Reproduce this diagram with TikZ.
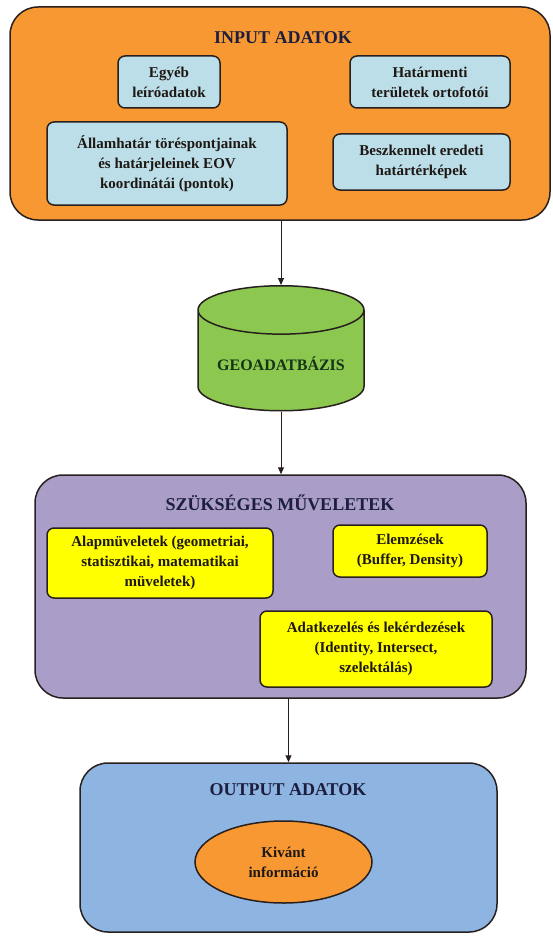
\documentclass[tikz,border=0pt]{standalone}
\usepackage{fontspec}
\setmainfont{Liberation Serif}
\usetikzlibrary{shapes.geometric,arrows.meta}
\definecolor{orangefill}{RGB}{248,152,50}
\definecolor{lightblue}{RGB}{188,222,232}
\definecolor{purplefill}{RGB}{170,158,200}
\definecolor{yellowfill}{RGB}{255,255,0}
\definecolor{bluefill}{RGB}{142,180,226}
\definecolor{greenfill}{RGB}{140,200,80}
\definecolor{linecol}{RGB}{40,32,30}
\definecolor{titlecol}{RGB}{28,30,62}
\definecolor{textcol}{RGB}{30,24,20}
\definecolor{geotext}{RGB}{22,52,22}
\begin{document}
\begin{tikzpicture}[x=1pt,y=-1pt,
    bigbox/.style={draw=linecol,line width=1.5pt,rounded corners=28pt},
    inbox/.style={draw=linecol,line width=1.5pt,rounded corners=7pt,align=center,
      inner sep=0pt,text=textcol,font=\fontsize{15}{20}\selectfont\bfseries},
    boxtitle/.style={text=titlecol,font=\fontsize{18}{22}\selectfont\bfseries},
    arr/.style={-{Triangle[length=7pt,width=6pt]},line width=1pt,draw=linecol}]
  \useasboundingbox (0,0) rectangle (553,936);
  % input adatok
  \node[bigbox,fill=orangefill,minimum width=540pt,minimum height=213pt] (input) at (280,113.5) {};
  \node[boxtitle] (inputtitle) at (283,38) {INPUT ADATOK};
  \node[inbox,fill=lightblue,minimum width=102pt,minimum height=52pt] (egyeb) at (169,82) {Egyéb\\leíróadatok};
  \node[inbox,fill=lightblue,minimum width=160pt,minimum height=52pt] (hatar) at (430,82) {Határmenti\\területek ortofotói};
  \node[inbox,fill=lightblue,minimum width=240pt,minimum height=83pt] (allam) at (167,163.5) {Államhatár töréspontjainak\\és határjeleinek EOV\\koordinátái (pontok)};
  \node[inbox,fill=lightblue,minimum width=177pt,minimum height=56pt] (beszk) at (421.5,162) {Beszkennelt eredeti\\határtérképek};
  % geoadatbazis
  \node[cylinder,shape border rotate=90,aspect=0.36,draw=linecol,line width=1.5pt,fill=greenfill,
    minimum width=166pt,minimum height=125pt,anchor=north,text=geotext,
    font=\fontsize{16}{20}\selectfont\bfseries] (geo) at (281,285) {GEOADATBÁZIS};
  % szukseges muveletek
  \node[bigbox,fill=purplefill,minimum width=491pt,minimum height=223pt] (ops) at (280.5,586.5) {};
  \node[boxtitle] (opstitle) at (280,503) {SZÜKSÉGES MŰVELETEK};
  \node[inbox,fill=yellowfill,minimum width=226pt,minimum height=70pt] (alap) at (160,563) {Alapmüveletek (geometriai,\\statisztikai, matematikai\\müveletek)};
  \node[inbox,fill=yellowfill,minimum width=154pt,minimum height=52pt] (elem) at (410,551) {Elemzések\\(Buffer, Density)};
  \node[inbox,fill=yellowfill,minimum width=232pt,minimum height=76pt] (adat) at (376,649) {Adatkezelés és lekérdezések\\(Identity, Intersect,\\szelektálás)};
  % output adatok
  \node[bigbox,fill=bluefill,minimum width=417pt,minimum height=169pt] (output) at (288.5,847.5) {};
  \node[boxtitle] (outtitle) at (288,790) {OUTPUT ADATOK};
  \node[ellipse,draw=linecol,line width=1.5pt,fill=orangefill,minimum width=177pt,minimum height=82pt,
    inner sep=0pt,align=center,text=textcol,font=\fontsize{15}{20}\selectfont\bfseries] (kivant) at (283.5,862) {Kivánt\\információ};
  % nyilak
  \draw[arr] (geo.top |- input.south) -- (geo.top);
  \draw[arr] (geo.bottom) -- (geo.bottom |- ops.north);
  \draw[arr] (output.north |- ops.south) -- (output.north);
\end{tikzpicture}
\end{document}
